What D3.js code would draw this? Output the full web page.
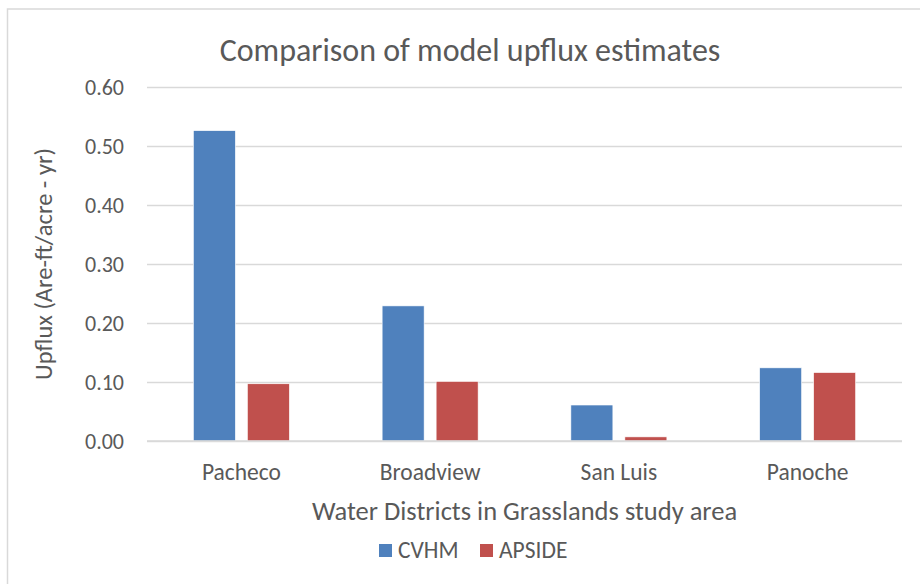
<!DOCTYPE html>
<html>
<head>
<meta charset="utf-8">
<script src="https://cdn.jsdelivr.net/npm/d3@7"></script>
<style>
  body { margin: 0; background: #fff; }
  text { font-family: Carlito, "Open Sans", sans-serif; fill: #595959; }
</style>
</head>
<body>
<svg id="chart"></svg>
<script>
// svg size
const width = 920;
const height = 584;

// data
const categories = ["Pacheco", "Broadview", "San Luis", "Panoche"];
const seriesNames = ["CVHM", "APSIDE"];
const cvhm = [0.526, 0.229, 0.061, 0.124];
const apside = [0.097, 0.101, 0.007, 0.116];
const yTicks = [0, 0.1, 0.2, 0.3, 0.4, 0.5, 0.6];
const colors = ["#4F81BD", "#C0504D"];

const values = [cvhm, apside];

const svg = d3.select("#chart")
    .attr("width", width)
    .attr("height", height);

// outer chart frame (runs past right / bottom edge)
svg.append("rect")
    .attr("x", 7.5)
    .attr("y", 9)
    .attr("width", 940)
    .attr("height", 600)
    .attr("fill", "none")
    .attr("stroke", "#d9d9d9")
    .attr("stroke-width", 1.5);

// plot area
const plot = { left: 147, right: 902, top: 87, bottom: 441 };

const x0 = d3.scaleBand()
    .domain(categories)
    .range([plot.left, plot.right]);

const x1 = d3.scaleBand()
    .domain(seriesNames)
    .range([-48, 48])
    .paddingInner(12 / 54);

const y = d3.scaleLinear()
    .domain([0, 0.6])
    .range([plot.bottom, plot.top]);

// gridlines + y labels
const yAxis = d3.axisLeft(y)
    .tickValues(yTicks)
    .tickSize(-(plot.right - plot.left))
    .tickPadding(23)
    .tickFormat(d3.format(".2f"));

const gy = svg.append("g")
    .attr("transform", `translate(${plot.left},0)`)
    .call(yAxis);
gy.select(".domain").remove();
gy.selectAll(".tick line")
    .attr("stroke", "#d9d9d9")
    .attr("stroke-width", 1.5);
gy.selectAll(".tick text")
    .attr("font-size", 22)
    .attr("fill", "#595959");

// bars
const group = svg.selectAll("g.cat")
    .data(categories)
    .enter()
    .append("g")
    .attr("class", "cat")
    .attr("transform", d => `translate(${x0(d) + x0.bandwidth() / 2},0)`);

group.selectAll("rect")
    .data((d, i) => seriesNames.map((s, j) => ({ s, v: values[j][i], c: colors[j] })))
    .enter()
    .append("rect")
    .attr("x", d => x1(d.s))
    .attr("width", x1.bandwidth())
    .attr("y", d => y(d.v))
    .attr("height", d => y(0) - y(d.v))
    .attr("fill", d => d.c)
    .attr("stroke", "#fff")
    .attr("stroke-width", 0.6);

// baseline over bars
svg.append("line")
    .attr("x1", plot.left)
    .attr("x2", plot.right)
    .attr("y1", y(0))
    .attr("y2", y(0))
    .attr("stroke", "#d9d9d9")
    .attr("stroke-width", 1.5);

// category labels
const xAxis = d3.axisBottom(x0).tickSize(0).tickPadding(22);
const gx = svg.append("g")
    .attr("transform", `translate(0,${plot.bottom})`)
    .call(xAxis);
gx.select(".domain").remove();
gx.selectAll(".tick text")
    .attr("font-size", 23.5)
    .attr("fill", "#595959");

// title
svg.append("text")
    .attr("x", 470)
    .attr("y", 61)
    .attr("text-anchor", "middle")
    .attr("font-size", 32)
    .text("Comparison of model upflux estimates");

// axis titles
svg.append("text")
    .attr("x", (plot.left + plot.right) / 2)
    .attr("y", 520)
    .attr("text-anchor", "middle")
    .attr("font-size", 26.5)
    .text("Water Districts in Grasslands study area");

svg.append("text")
    .attr("transform", `translate(52,${(plot.top + plot.bottom) / 2}) rotate(-90)`)
    .attr("text-anchor", "middle")
    .attr("font-size", 24.5)
    .text("Upflux (Are-ft/acre - yr)");

// legend
const legend = svg.append("g");
const legendX = [379, 480];
seriesNames.forEach((s, i) => {
    legend.append("rect")
        .attr("x", legendX[i])
        .attr("y", 544)
        .attr("width", 13)
        .attr("height", 13)
        .attr("fill", colors[i]);
    legend.append("text")
        .attr("x", legendX[i] + 19)
        .attr("y", 558)
        .attr("font-size", 23.5)
        .text(s);
});
</script>
</body>
</html>
